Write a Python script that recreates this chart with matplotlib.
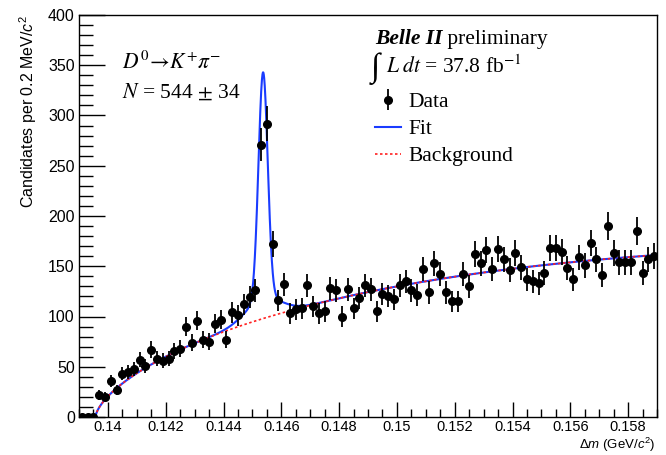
import numpy as np
import matplotlib
matplotlib.use('Agg')
import matplotlib.pyplot as plt
from matplotlib.ticker import MultipleLocator, FuncFormatter
from matplotlib.lines import Line2D

# 데이터 (0.2 MeV/c^2 bin, 0.139 ~ 0.159 GeV/c^2)
bin_lo = 0.139
bin_w = 0.0002
counts = [0, 0, 0, 22, 20, 36, 27, 43, 45, 48,
          57, 51, 67, 58, 56, 58, 66, 68, 90, 74,
          96, 77, 75, 93, 97, 77, 104, 101, 112, 119,
          126, 271, 292, 172, 116, 132, 103, 107, 108, 131,
          110, 103, 105, 128, 126, 100, 127, 108, 118, 131,
          127, 105, 122, 120, 117, 131, 135, 126, 121, 147,
          124, 153, 142, 124, 115, 115, 142, 130, 162, 153,
          166, 147, 167, 157, 146, 163, 149, 137, 135, 133,
          143, 168, 168, 164, 148, 137, 159, 151, 173, 157,
          141, 190, 163, 154, 154, 154, 185, 143, 157, 160]

# fit 파라미터
m_pi = 0.13957
bkg_norm, bkg_pow, bkg_slope = 3026.0, 0.643, 20.5
sig_mu = 0.14537
sig_core_amp, sig_core_w = 225.0, 0.00016
sig_tail_amp, sig_tail_w = 20.0, 0.0006

plt.rcParams['font.family'] = ['Liberation Sans', 'DejaVu Sans']
plt.rcParams['mathtext.fontset'] = 'custom'
plt.rcParams['mathtext.rm'] = 'Liberation Sans'
plt.rcParams['mathtext.it'] = 'Liberation Sans:italic'
plt.rcParams['mathtext.bf'] = 'Liberation Sans:bold'

counts = np.array(counts, dtype=float)
centers = bin_lo + bin_w * (np.arange(len(counts)) + 0.5)
err = np.sqrt(counts)


def bkg(x):
    dx = np.clip(x - m_pi, 0, None)
    return bkg_norm * dx**bkg_pow * np.exp(-bkg_slope * dx)


def fit(x):
    sig = sig_core_amp * np.exp(-0.5 * ((x - sig_mu) / sig_core_w)**2) \
        + sig_tail_amp * np.exp(-0.5 * ((x - sig_mu) / sig_tail_w)**2)
    return bkg(x) + sig * (x > m_pi)


W, H = 666, 455
fig = plt.figure(figsize=(W / 100, H / 100), dpi=100)
ax = fig.add_axes([79 / W, 1 - 417 / H, 578 / W, 402 / H])


def fp(x, y):
    return (x / W, 1 - y / H)


xs = np.linspace(m_pi, 0.159, 3000)
ax.plot(xs, fit(xs), color='#1a3cff', lw=1.5, zorder=2)
ax.plot(xs, bkg(xs), color='#ff2020', lw=1.2, ls=(0, (1.5, 1.5)), zorder=2.5)

eb = ax.errorbar(centers, counts, yerr=err, fmt='o', color='black', ms=5.5,
                 elinewidth=1.3, capsize=0, zorder=3)
zero = counts == 0
ax.hlines(counts[zero], centers[zero] - bin_w / 2, centers[zero] + bin_w / 2,
          color='black', lw=1.5, zorder=3)

ax.set_xlim(0.139, 0.159)
ax.set_ylim(0, 400)
ax.xaxis.set_major_locator(MultipleLocator(0.002))
ax.xaxis.set_minor_locator(MultipleLocator(0.0005))
ax.yaxis.set_major_locator(MultipleLocator(50))
ax.yaxis.set_minor_locator(MultipleLocator(10))
ax.xaxis.set_major_formatter(FuncFormatter(lambda v, p: '%g' % round(v, 4)))
ax.tick_params(which='both', direction='in', top=False, right=False,
               labelsize=11.5, width=1.0)
ax.tick_params(axis='y', which='major', length=19, pad=3)
ax.tick_params(axis='y', which='minor', length=10)
ax.tick_params(axis='x', which='major', length=11, pad=2, labelsize=10.5)
ax.tick_params(axis='x', which='minor', length=6)
for s in ax.spines.values():
    s.set_linewidth(1.0)

fig.text(*fp(28, 15), r'Candidates per 0.2 MeV/$c^2$', rotation=90,
         ha='center', va='top', fontsize=11.5)
fig.text(*fp(655, 444.5), r'$\Delta m$ (GeV/$c^2$)', ha='right',
         va='center', fontsize=9.5)

serif = dict(family=['Liberation Serif', 'DejaVu Serif'], fontsize=15.5,
             math_fontfamily='stix')
fig.text(*fp(122, 63), r'$D^0\!\rightarrow\!K^{+}\pi^{-}$', ha='left',
         va='center', **serif)
fig.text(*fp(122, 92), r'$N$ = 544 $\pm$ 34', ha='left', va='center', **serif)

t1 = fig.text(*fp(375, 39), 'Belle II', ha='left', va='center',
              weight='bold', style='italic', **serif)
ax.annotate(' preliminary', xy=(1, 0), xycoords=t1, ha='left', va='bottom',
            **serif)
fig.text(*fp(371, 69), '\u222b', ha='left', va='center',
         family=['Liberation Serif', 'DejaVu Serif'], fontsize=24)
fig.text(*fp(386, 67), r'$L\;dt$ = 37.8 fb$^{-1}$', ha='left',
         va='center', **serif)

h_fit = Line2D([], [], color='#1a3cff', lw=1.5)
h_bkg = Line2D([], [], color='#ff2020', lw=1.2, ls=(0, (1.5, 1.5)))
leg = ax.legend([eb, h_fit, h_bkg], ['Data', 'Fit', 'Background'],
                loc='upper left', bbox_to_anchor=fp(375, 92),
                bbox_transform=fig.transFigure, frameon=False,
                borderpad=0, borderaxespad=0, handlelength=1.2,
                handletextpad=0.35, labelspacing=0.33,
                prop={'family': 'Liberation Serif', 'size': 15.5})

fig.savefig('out.png', dpi=100)
